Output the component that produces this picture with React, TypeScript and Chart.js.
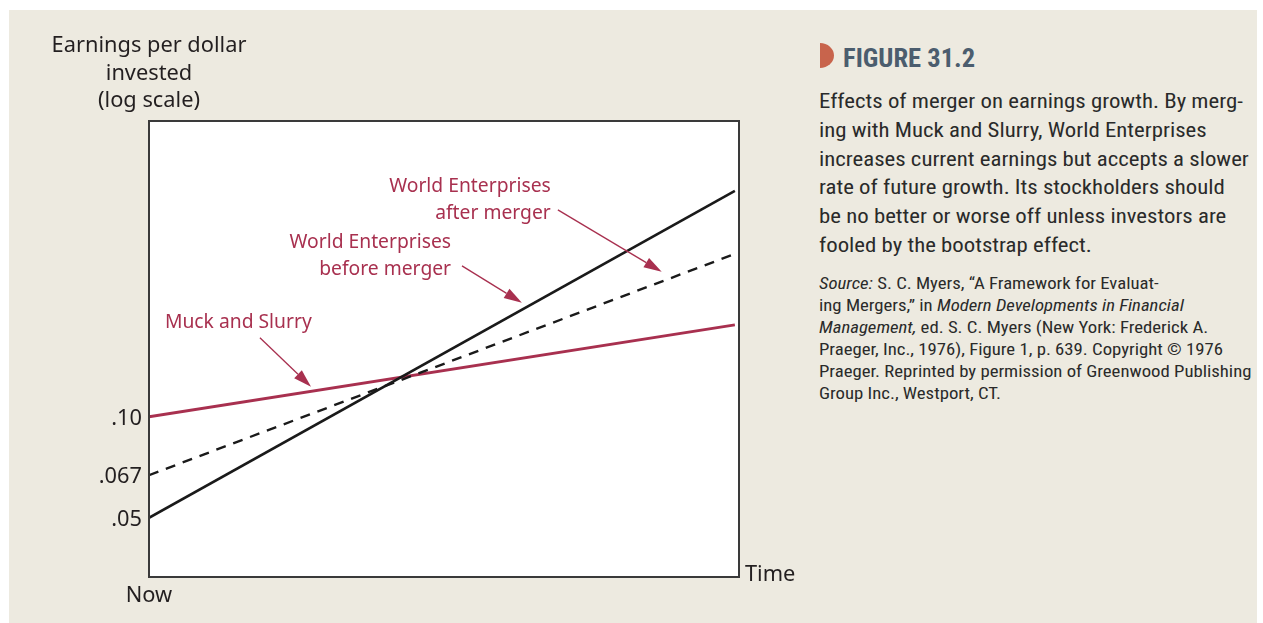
import React, { useEffect, useRef } from "react";
import { Chart, registerables } from "chart.js";

Chart.register(...registerables);

// ---- data ----
const timePoints = [0, 0.993];
const muckSlurry = [0.1, 0.188];
const worldAfter = [0.05, 0.472];
const worldBefore = [0.067, 0.306];

const yTickValues = [0.05, 0.067, 0.1];
const yTickLabels = [".05", ".067", ".10"];
const xTickValues = [0];
const xTickLabels = ["Now"];
const yTitleLines = ["Earnings per dollar", "invested", "(log scale)"];
const xTitle = "Time";

// annotation texts and anchors (in data space: time, earnings)
const noteTexts = [
  ["World Enterprises", "after merger"],
  ["World Enterprises", "before merger"],
  ["Muck and Slurry"],
];
const noteX = [0.681, 0.512, 0.027];
const noteY = [0.4848, 0.33, 0.1906];
const noteAlign = ["right", "right", "left"];
const arrowFromX = [0.693, 0.5305, 0.188];
const arrowFromY = [0.414, 0.2818, 0.172];
const arrowToX = [0.869, 0.632, 0.2746];
const arrowToY = [0.2705, 0.2187, 0.1229];

const descLines = [
  "Effects of merger on earnings growth. By merg-",
  "ing with Muck and Slurry, World Enterprises",
  "increases current earnings but accepts a slower",
  "rate of future growth. Its stockholders should",
  "be no better or worse off unless investors are",
  "fooled by the bootstrap effect.",
];

const CRIMSON = "#a8304f";
const INK = "#231f20";
const CHART_FONT = "'Noto Sans', Lato, sans-serif";
const NARROW = "'Liberation Sans Narrow', 'Roboto Condensed', Roboto, sans-serif";

const toPts = (ys: number[]) => timePoints.map((t, i) => ({ x: t, y: ys[i] }));

const decorPlugin = {
  id: "decor",
  beforeDraw(chart: any) {
    const { ctx, chartArea: a } = chart;
    ctx.save();
    ctx.fillStyle = "#ffffff";
    ctx.fillRect(a.left, a.top, a.right - a.left, a.bottom - a.top);
    ctx.restore();
  },
  afterDraw(chart: any) {
    const { ctx, chartArea: a } = chart;
    const xs = chart.scales.x;
    const ys = chart.scales.y;
    ctx.save();
    // frame
    ctx.strokeStyle = "#3a3a3a";
    ctx.lineWidth = 2;
    ctx.strokeRect(a.left, a.top, a.right - a.left, a.bottom - a.top);

    // y title
    ctx.fillStyle = INK;
    ctx.font = `21.8px ${CHART_FONT}`;
    ctx.textAlign = "center";
    ctx.textBaseline = "middle";
    const offs = [75.5, 47.5, 20.5];
    yTitleLines.forEach((t, i) => ctx.fillText(t, a.left, a.top - offs[i]));

    // x title
    ctx.textAlign = "left";
    ctx.fillText(xTitle, a.right + 6, a.bottom - 2);

    // notes
    ctx.fillStyle = CRIMSON;
    ctx.font = `19.3px ${CHART_FONT}`;
    noteTexts.forEach((lines, k) => {
      const px = xs.getPixelForValue(noteX[k]);
      const py = ys.getPixelForValue(noteY[k]);
      ctx.textAlign = noteAlign[k] as CanvasTextAlign;
      lines.forEach((t, i) => ctx.fillText(t, px, py + i * 27));
    });

    // arrows
    ctx.strokeStyle = CRIMSON;
    ctx.lineWidth = 1.3;
    for (let k = 0; k < arrowFromX.length; k++) {
      const x0 = xs.getPixelForValue(arrowFromX[k]);
      const y0 = ys.getPixelForValue(arrowFromY[k]);
      const x1 = xs.getPixelForValue(arrowToX[k]);
      const y1 = ys.getPixelForValue(arrowToY[k]);
      const ang = Math.atan2(y1 - y0, x1 - x0);
      const L = 18, W = 5.5;
      const bx = x1 - L * Math.cos(ang);
      const by = y1 - L * Math.sin(ang);
      ctx.beginPath();
      ctx.moveTo(x0, y0);
      ctx.lineTo(bx, by);
      ctx.stroke();
      ctx.beginPath();
      ctx.moveTo(x1, y1);
      ctx.lineTo(bx + W * Math.sin(ang), by - W * Math.cos(ang));
      ctx.lineTo(bx - W * Math.sin(ang), by + W * Math.cos(ang));
      ctx.closePath();
      ctx.fill();
    }
    ctx.restore();
  },
};

export default function App() {
  const ref = useRef<HTMLCanvasElement | null>(null);

  useEffect(() => {
    if (!ref.current) return;
    const chart = new Chart(ref.current, {
      type: "line",
      data: {
        datasets: [
          {
            label: "World Enterprises after merger",
            data: toPts(worldAfter),
            borderColor: "#1a1a1a",
            borderWidth: 2.6,
            pointRadius: 0,
            order: 0,
          },
          {
            label: "World Enterprises before merger",
            data: toPts(worldBefore),
            borderColor: "#1a1a1a",
            borderWidth: 2.4,
            borderDash: [10, 8],
            pointRadius: 0,
            order: 1,
          },
          {
            label: "Muck and Slurry",
            data: toPts(muckSlurry),
            borderColor: CRIMSON,
            borderWidth: 3,
            pointRadius: 0,
            order: 2,
          },
        ],
      },
      options: {
        responsive: false,
        animation: false,
        devicePixelRatio: 1,
        layout: { padding: { left: 0, top: 121, right: 71, bottom: 0 } },
        plugins: { legend: { display: false }, tooltip: { enabled: false } },
        scales: {
          x: {
            type: "linear",
            min: 0,
            max: 1,
            bounds: "data",
            grid: { display: false, drawTicks: false },
            border: { display: false },
            afterBuildTicks: (s: any) => {
              s.ticks = xTickValues.map((v) => ({ value: v }));
            },
            afterFit: (s: any) => {
              s.height = 46;
            },
            ticks: {
              padding: 6,
              autoSkip: false,
              maxRotation: 0,
              color: INK,
              font: { family: CHART_FONT, size: 21.8 },
              callback: (v: any) => {
                const i = xTickValues.indexOf(Number(v));
                return i >= 0 ? xTickLabels[i] : "";
              },
            },
          },
          y: {
            type: "logarithmic",
            min: 0.0333,
            max: 0.762,
            bounds: "data",
            grid: { display: false, drawTicks: false },
            border: { display: false },
            afterBuildTicks: (s: any) => {
              s.ticks = yTickValues.map((v) => ({ value: v }));
            },
            afterFit: (s: any) => {
              s.width = 149;
            },
            ticks: {
              padding: 7,
              labelOffset: 2,
              autoSkip: false,
              color: INK,
              font: { family: CHART_FONT, size: 21.8 },
              callback: (v: any) => {
                const i = yTickValues.indexOf(Number(v));
                return i >= 0 ? yTickLabels[i] : "";
              },
            },
          },
        },
      },
      plugins: [decorPlugin],
    });
    return () => chart.destroy();
  }, []);

  const it: React.CSSProperties = { fontStyle: "italic" };

  return (
    <div
      style={{
        position: "fixed",
        left: 0,
        top: 0,
        width: 1263,
        height: 623,
        background: "#ffffff",
        overflow: "hidden",
      }}
    >
      <div
        style={{
          position: "absolute",
          left: 9,
          top: 10,
          width: 1248,
          height: 613,
          background: "#edeae0",
        }}
      />
      <canvas
        ref={ref}
        width={810}
        height={623}
        style={{ position: "absolute", left: 0, top: 0, width: 810, height: 623 }}
      />
      <div
        style={{
          position: "absolute",
          left: 820,
          top: 43,
          width: 14,
          height: 25,
          background: "#c8644c",
          borderRadius: "0 14px 14px 0 / 0 12.5px 12.5px 0",
        }}
      />
      <div
        style={{
          position: "absolute",
          left: 843,
          top: 43,
          fontFamily: NARROW,
          fontWeight: 700,
          fontSize: 26,
          lineHeight: "30px",
          color: "#4b5d6e",
          whiteSpace: "nowrap",
          transform: "scaleX(1.02)",
          transformOrigin: "left top",
        }}
      >
        FIGURE 31.2
      </div>
      <div
        style={{
          position: "absolute",
          left: 819,
          top: 87,
          fontFamily: NARROW,
          fontSize: 20,
          lineHeight: "28.8px",
          color: "#2a2a2a",
          whiteSpace: "nowrap",
          transform: "scaleX(1.14)",
          transformOrigin: "left top",
        }}
      >
        {descLines.map((l, i) => (
          <div key={i}>{l}</div>
        ))}
      </div>
      <div
        style={{
          position: "absolute",
          left: 819,
          top: 273,
          fontFamily: NARROW,
          fontSize: 16,
          lineHeight: "22px",
          color: "#2a2a2a",
          whiteSpace: "nowrap",
          transform: "scaleX(1.17)",
          transformOrigin: "left top",
        }}
      >
        <div>
          <span style={it}>Source:</span> S. C. Myers, “A Framework for Evaluat-
        </div>
        <div>
          ing Mergers,” in <span style={it}>Modern Developments in Financial</span>
        </div>
        <div>
          <span style={it}>Management,</span> ed. S. C. Myers (New York: Frederick A.
        </div>
        <div>Praeger, Inc., 1976), Figure 1, p. 639. Copyright © 1976</div>
        <div>Praeger. Reprinted by permission of Greenwood Publishing</div>
        <div>Group Inc., Westport, CT.</div>
      </div>
    </div>
  );
}
